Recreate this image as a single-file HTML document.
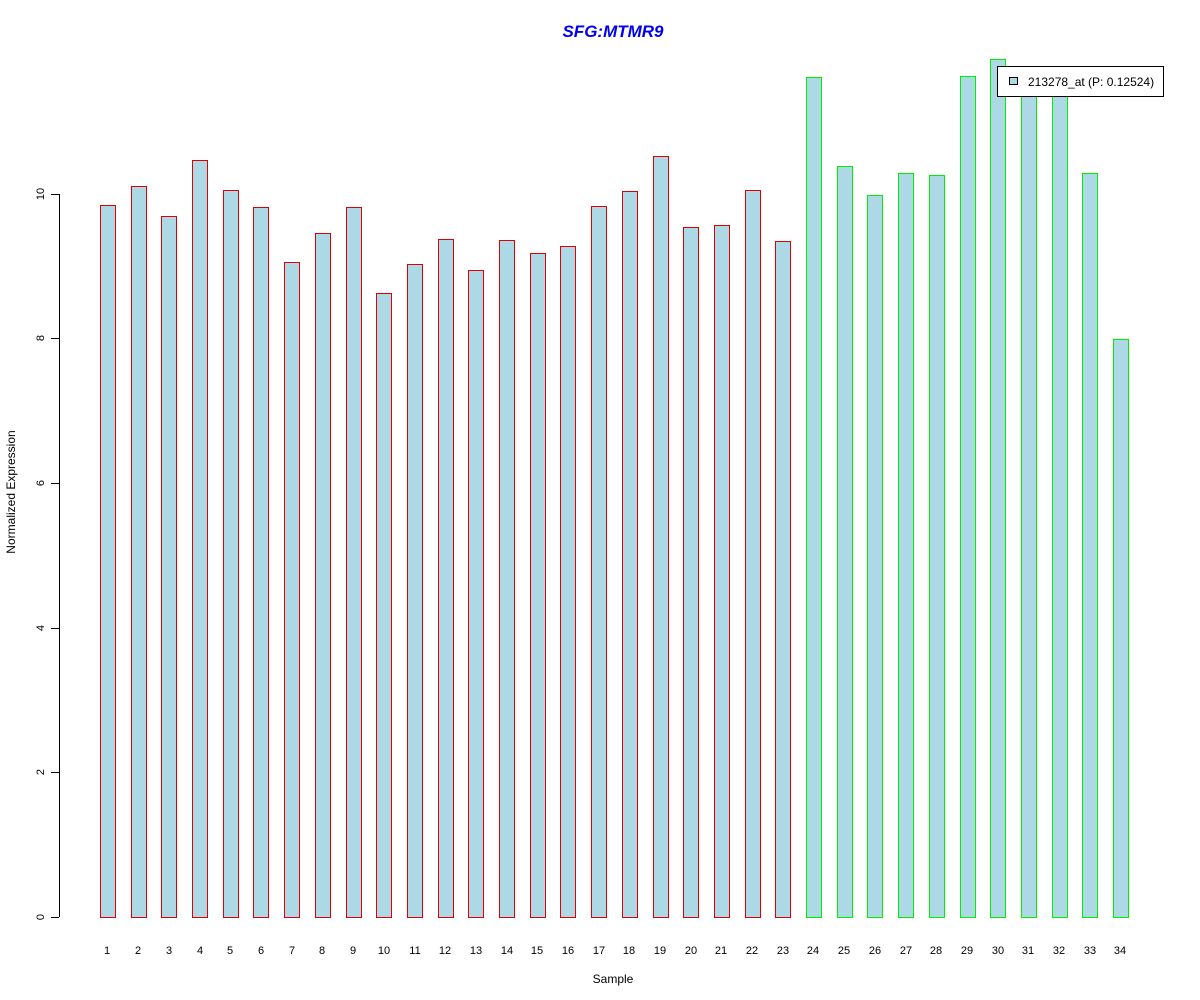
<!DOCTYPE html>
<html><head><style>body{margin:0;background:#fff}svg{display:block}</style></head>
<body>
<svg width="1200" height="1000" xmlns="http://www.w3.org/2000/svg" font-family="Liberation Sans, sans-serif">
<rect width="1200" height="1000" fill="#fff"/>
<text x="613" y="37" text-anchor="middle" font-size="17" font-weight="bold" font-style="italic" fill="#0000ee">SFG:MTMR9</text>
<g stroke="#000" fill="none">
<line x1="59.5" y1="194" x2="59.5" y2="917"/>
<line x1="51" y1="917.5" x2="59" y2="917.5"/>
<line x1="51" y1="772.5" x2="59" y2="772.5"/>
<line x1="51" y1="628.5" x2="59" y2="628.5"/>
<line x1="51" y1="483.5" x2="59" y2="483.5"/>
<line x1="51" y1="338.5" x2="59" y2="338.5"/>
<line x1="51" y1="194.5" x2="59" y2="194.5"/>
</g>
<g font-size="11" text-anchor="middle">
<text transform="translate(44,917) rotate(-90)">0</text>
<text transform="translate(44,772) rotate(-90)">2</text>
<text transform="translate(44,628) rotate(-90)">4</text>
<text transform="translate(44,483) rotate(-90)">6</text>
<text transform="translate(44,338) rotate(-90)">8</text>
<text transform="translate(44,194) rotate(-90)">10</text>
</g>
<g fill="lightblue" stroke="#dd0000">
<rect x="100.5" y="205.5" width="15" height="712"/>
<rect x="131.5" y="186.5" width="15" height="731"/>
<rect x="161.5" y="216.5" width="15" height="701"/>
<rect x="192.5" y="160.5" width="15" height="757"/>
<rect x="223.5" y="190.5" width="15" height="727"/>
<rect x="253.5" y="207.5" width="15" height="710"/>
<rect x="284.5" y="262.5" width="15" height="655"/>
<rect x="315.5" y="233.5" width="15" height="684"/>
<rect x="346.5" y="207.5" width="15" height="710"/>
<rect x="376.5" y="293.5" width="15" height="624"/>
<rect x="407.5" y="264.5" width="15" height="653"/>
<rect x="438.5" y="239.5" width="15" height="678"/>
<rect x="468.5" y="270.5" width="15" height="647"/>
<rect x="499.5" y="240.5" width="15" height="677"/>
<rect x="530.5" y="253.5" width="15" height="664"/>
<rect x="560.5" y="246.5" width="15" height="671"/>
<rect x="591.5" y="206.5" width="15" height="711"/>
<rect x="622.5" y="191.5" width="15" height="726"/>
<rect x="653.5" y="156.5" width="15" height="761"/>
<rect x="683.5" y="227.5" width="15" height="690"/>
<rect x="714.5" y="225.5" width="15" height="692"/>
<rect x="745.5" y="190.5" width="15" height="727"/>
<rect x="775.5" y="241.5" width="15" height="676"/>
</g>
<g fill="lightblue" stroke="#00ee00">
<rect x="806.5" y="77.5" width="15" height="840"/>
<rect x="837.5" y="166.5" width="15" height="751"/>
<rect x="867.5" y="195.5" width="15" height="722"/>
<rect x="898.5" y="173.5" width="15" height="744"/>
<rect x="929.5" y="175.5" width="15" height="742"/>
<rect x="960.5" y="76.5" width="15" height="841"/>
<rect x="990.5" y="59.5" width="15" height="858"/>
<rect x="1021.5" y="88.5" width="15" height="829"/>
<rect x="1052.5" y="66.5" width="15" height="851"/>
<rect x="1082.5" y="173.5" width="15" height="744"/>
<rect x="1113.5" y="339.5" width="15" height="578"/>
</g>
<g font-size="11" text-anchor="middle">
<text x="107" y="954">1</text><text x="138" y="954">2</text><text x="169" y="954">3</text><text x="200" y="954">4</text><text x="230" y="954">5</text><text x="261" y="954">6</text><text x="292" y="954">7</text><text x="322" y="954">8</text><text x="353" y="954">9</text><text x="384" y="954">10</text><text x="415" y="954">11</text><text x="445" y="954">12</text><text x="476" y="954">13</text><text x="507" y="954">14</text><text x="537" y="954">15</text><text x="568" y="954">16</text><text x="599" y="954">17</text><text x="629" y="954">18</text><text x="660" y="954">19</text><text x="691" y="954">20</text><text x="721" y="954">21</text><text x="752" y="954">22</text><text x="783" y="954">23</text><text x="813" y="954">24</text><text x="844" y="954">25</text><text x="875" y="954">26</text><text x="906" y="954">27</text><text x="936" y="954">28</text><text x="967" y="954">29</text><text x="998" y="954">30</text><text x="1028" y="954">31</text><text x="1059" y="954">32</text><text x="1090" y="954">33</text><text x="1120" y="954">34</text>
</g>
<text x="613" y="983" text-anchor="middle" font-size="12">Sample</text>
<text transform="translate(15,492) rotate(-90)" text-anchor="middle" font-size="12">Normalized Expression</text>
<rect x="997.5" y="66.5" width="166" height="30" fill="#fff" stroke="#000"/>
<rect x="1009.5" y="77.5" width="8" height="7" fill="lightblue" stroke="#000"/>
<text x="1028" y="86" font-size="12">213278_at (P: 0.12524)</text>
</svg>
</body></html>
